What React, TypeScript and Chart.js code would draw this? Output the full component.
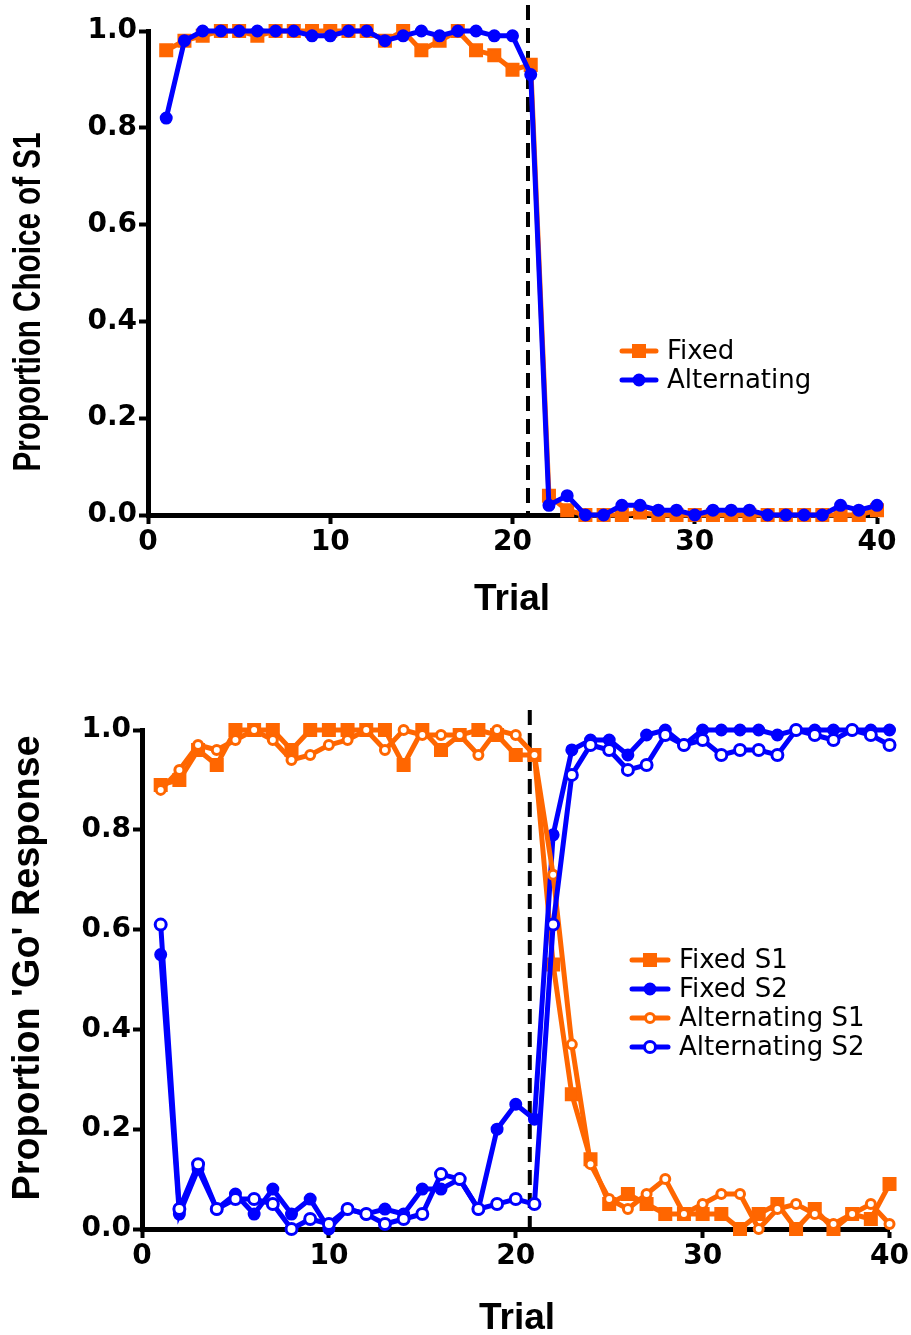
import React, { useEffect, useRef } from "react";
import { Chart, registerables } from "chart.js";

Chart.register(...registerables);

// ---------------- data ----------------
const trials = [1, 2, 3, 4, 5, 6, 7, 8, 9, 10, 11, 12, 13, 14, 15, 16, 17, 18, 19, 20, 21, 22, 23, 24, 25, 26, 27, 28, 29, 30, 31, 32, 33, 34, 35, 36, 37, 38, 39, 40];

// Top panel: Proportion Choice of S1
const topFixed = [0.96, 0.98, 0.99, 1.0, 1.0, 0.99, 1.0, 1.0, 1.0, 1.0, 1.0, 1.0, 0.98, 1.0, 0.96, 0.98, 1.0, 0.96, 0.95, 0.92, 0.93,
  0.04, 0.01, 0, 0, 0, 0.005, 0, 0, 0, 0, 0, 0, 0, 0, 0, 0, 0, 0, 0.01];
const topAlternating = [0.82, 0.98, 1.0, 1.0, 1.0, 1.0, 1.0, 1.0, 0.99, 0.99, 1.0, 1.0, 0.98, 0.99, 1.0, 0.99, 1.0, 1.0, 0.99, 0.99, 0.91,
  0.02, 0.04, 0, 0, 0.02, 0.02, 0.01, 0.01, 0, 0.01, 0.01, 0.01, 0, 0, 0, 0, 0.02, 0.01, 0.02];

// Bottom panel: Proportion 'Go' Response
const fixedS1 = [0.89, 0.90, 0.96, 0.93, 1.0, 1.0, 1.0, 0.96, 1.0, 1.0, 1.0, 1.0, 1.0, 0.93, 1.0, 0.96, 0.99, 1.0, 0.99, 0.95, 0.95,
  0.53, 0.27, 0.14, 0.05, 0.07, 0.05, 0.03, 0.03, 0.03, 0.03, 0.0, 0.03, 0.05, 0.0, 0.04, 0.0, 0.03, 0.02, 0.09];
const fixedS2 = [0.55, 0.03, 0.12, 0.04, 0.07, 0.03, 0.08, 0.03, 0.06, 0.0, 0.04, 0.03, 0.04, 0.03, 0.08, 0.08, 0.10, 0.04, 0.20, 0.25, 0.22,
  0.79, 0.96, 0.98, 0.98, 0.95, 0.99, 1.0, 0.97, 1.0, 1.0, 1.0, 1.0, 0.99, 1.0, 1.0, 1.0, 1.0, 1.0, 1.0];
const alternatingS1 = [0.88, 0.92, 0.97, 0.96, 0.98, 1.0, 0.98, 0.94, 0.95, 0.97, 0.98, 1.0, 0.96, 1.0, 0.99, 0.99, 0.99, 0.95, 1.0, 0.99, 0.95,
  0.71, 0.37, 0.13, 0.06, 0.04, 0.07, 0.10, 0.03, 0.05, 0.07, 0.07, 0.0, 0.04, 0.05, 0.03, 0.01, 0.03, 0.05, 0.01];
const alternatingS2 = [0.61, 0.04, 0.13, 0.04, 0.06, 0.06, 0.05, 0.0, 0.02, 0.01, 0.04, 0.03, 0.01, 0.02, 0.03, 0.11, 0.10, 0.04, 0.05, 0.06, 0.05,
  0.61, 0.91, 0.97, 0.96, 0.92, 0.93, 0.99, 0.97, 0.98, 0.95, 0.96, 0.96, 0.95, 1.0, 0.99, 0.98, 1.0, 0.99, 0.97];

const topLabels = ["Fixed", "Alternating"];
const bottomLabels = ["Fixed S1", "Fixed S2", "Alternating S1", "Alternating S2"];
const xTicksStep = 10;
const yTicksStep = 0.2;
const reversalTop = 20.85;
const reversalBottom = 20.75;

// ---------------- styles ----------------
const ORANGE = "#FF6600";
const BLUE = "#0000FF";

type Marker = { color: string; style: "rect" | "circle"; radius: number; fill: string; border: number };

const mFixedOrange: Marker = { color: ORANGE, style: "rect", radius: 8.5, fill: ORANGE, border: 2 };
const mFilledBlue: Marker = { color: BLUE, style: "circle", radius: 5.5, fill: BLUE, border: 2 };
const mOpenOrange: Marker = { color: ORANGE, style: "circle", radius: 4.5, fill: "#FFFFFF", border: 3 };
const mOpenBlue: Marker = { color: BLUE, style: "circle", radius: 5.5, fill: "#FFFFFF", border: 3 };

const LINE_W = 5;

function series(values: number[], m: Marker, order: number, label: string) {
  return {
    label,
    data: trials.map((t, i) => ({ x: t, y: values[i] })),
    borderColor: m.color,
    borderWidth: LINE_W,
    pointStyle: m.style,
    pointRadius: m.radius,
    pointBackgroundColor: m.fill,
    pointBorderColor: m.color,
    pointBorderWidth: m.border,
    tension: 0,
    clip: false,
    order,
  };
}

function drawMarker(ctx: CanvasRenderingContext2D, m: Marker, x: number, y: number) {
  ctx.save();
  ctx.fillStyle = m.fill;
  ctx.strokeStyle = m.color;
  ctx.lineWidth = m.border;
  ctx.beginPath();
  if (m.style === "rect") {
    const s = Math.SQRT1_2 * m.radius;
    ctx.rect(x - s, y - s, 2 * s, 2 * s);
  } else {
    ctx.arc(x, y, m.radius, 0, Math.PI * 2);
  }
  ctx.fill();
  ctx.stroke();
  ctx.restore();
}

type PanelDef = {
  top: number;
  width: number;
  height: number;
  area: { left: number; right: number; top: number; bottom: number };
  vline: number;
  vlineExtra: number;
  xTitle: { text: string; x: number; y: number; size: number };
  yTitle: { text: string; x: number; y: number; size: number; maxWidth: number };
  legend: { x0: number; x1: number; textX: number; ys: number[]; labels: string[]; markers: Marker[] };
  datasets: any[];
};

const topPanel: PanelDef = {
  top: 0,
  width: 911,
  height: 640,
  area: { left: 148, right: 877, top: 31, bottom: 515 },
  vline: reversalTop,
  vlineExtra: 26,
  xTitle: { text: "Trial", x: 512, y: 600, size: 37 },
  yTitle: { text: "Proportion Choice of S1", x: 29, y: 302, size: 39, maxWidth: 339 },
  legend: { x0: 622, x1: 656, textX: 667, ys: [351, 380], labels: topLabels, markers: [mFixedOrange, mFilledBlue] },
  datasets: [
    series(topFixed, mFixedOrange, 2, topLabels[0]),
    series(topAlternating, mFilledBlue, 1, topLabels[1]),
  ],
};

const bottomPanel: PanelDef = {
  top: 640,
  width: 911,
  height: 695,
  area: { left: 142, right: 893, top: 90, bottom: 589 },
  vline: reversalBottom,
  vlineExtra: 20,
  xTitle: { text: "Trial", x: 517, y: 679, size: 37 },
  yTitle: { text: "Proportion 'Go' Response", x: 29, y: 328, size: 38, maxWidth: 465 },
  legend: {
    x0: 632, x1: 668, textX: 679, ys: [320, 349, 378, 407], labels: bottomLabels,
    markers: [mFixedOrange, mFilledBlue, mOpenOrange, mOpenBlue],
  },
  datasets: [
    series(fixedS1, mFixedOrange, 4, bottomLabels[0]),
    series(fixedS2, mFilledBlue, 3, bottomLabels[1]),
    series(alternatingS1, mOpenOrange, 2, bottomLabels[2]),
    series(alternatingS2, mOpenBlue, 1, bottomLabels[3]),
  ],
};

const tickFont = { family: "'DejaVu Sans', sans-serif", weight: "bold" as const, size: 28 };

function buildConfig(p: PanelDef): any {
  const overlay = {
    id: "overlay",
    beforeDatasetsDraw(chart: any) {
      const { ctx, chartArea, scales } = chart;
      const x = scales.x.getPixelForValue(p.vline);
      ctx.save();
      ctx.strokeStyle = "#000";
      ctx.lineWidth = 4;
      ctx.setLineDash([15, 8]);
      ctx.beginPath();
      ctx.moveTo(x, chartArea.top - p.vlineExtra);
      ctx.lineTo(x, chartArea.bottom);
      ctx.stroke();
      ctx.restore();
    },
    afterDraw(chart: any) {
      const ctx: CanvasRenderingContext2D = chart.ctx;
      ctx.save();
      ctx.fillStyle = "#000";
      // x title
      ctx.font = `bold ${p.xTitle.size}px 'Liberation Sans', Arial, sans-serif`;
      ctx.textAlign = "center";
      ctx.textBaseline = "middle";
      ctx.fillText(p.xTitle.text, p.xTitle.x, p.xTitle.y);
      // y title
      ctx.save();
      ctx.translate(p.yTitle.x, p.yTitle.y);
      ctx.rotate(-Math.PI / 2);
      ctx.font = `bold ${p.yTitle.size}px 'Liberation Sans', Arial, sans-serif`;
      ctx.fillText(p.yTitle.text, 0, 0, p.yTitle.maxWidth);
      ctx.restore();
      // legend
      const lg = p.legend;
      lg.labels.forEach((label, i) => {
        const y = lg.ys[i];
        const m = lg.markers[i];
        ctx.save();
        ctx.strokeStyle = m.color;
        ctx.lineWidth = LINE_W;
        ctx.lineCap = "round";
        ctx.beginPath();
        ctx.moveTo(lg.x0, y);
        ctx.lineTo(lg.x1, y);
        ctx.stroke();
        ctx.restore();
        drawMarker(ctx, m, (lg.x0 + lg.x1) / 2, y);
        ctx.fillStyle = "#000";
        ctx.font = "26px 'DejaVu Sans', sans-serif";
        ctx.textAlign = "left";
        ctx.textBaseline = "middle";
        ctx.fillText(label, lg.textX, y + 1);
      });
      ctx.restore();
    },
  };

  return {
    type: "line",
    data: { datasets: p.datasets },
    options: {
      animation: false,
      responsive: false,
      maintainAspectRatio: false,
      devicePixelRatio: 1,
      layout: { padding: { left: 0, top: p.area.top, right: p.width - p.area.right, bottom: 0 } },
      plugins: { legend: { display: false }, tooltip: { enabled: false }, title: { display: false } },
      events: [],
      scales: {
        x: {
          type: "linear",
          min: 0,
          max: 40,
          afterFit: (s: any) => { s.height = p.height - p.area.bottom; },
          ticks: { stepSize: xTicksStep, color: "#000", font: tickFont, padding: 2, maxRotation: 0, autoSkip: false },
          grid: { display: true, drawOnChartArea: false, drawTicks: true, tickLength: 9, tickWidth: 4, tickColor: "#000" },
          border: { display: true, color: "#000", width: 5 },
        },
        y: {
          type: "linear",
          min: 0,
          max: 1,
          afterFit: (s: any) => { s.width = p.area.left; },
          ticks: {
            stepSize: yTicksStep, color: "#000", font: tickFont, padding: 2,
            callback: (v: any) => Number(v).toFixed(1),
          },
          grid: { display: true, drawOnChartArea: false, drawTicks: true, tickLength: 9, tickWidth: 4, tickColor: "#000" },
          border: { display: true, color: "#000", width: 5 },
        },
      },
    },
    plugins: [overlay],
  };
}

function PanelChart({ panel }: { panel: PanelDef }) {
  const ref = useRef<HTMLCanvasElement>(null);
  useEffect(() => {
    if (!ref.current) return;
    const chart = new Chart(ref.current, buildConfig(panel));
    return () => chart.destroy();
  }, [panel]);
  return (
    <canvas
      ref={ref}
      width={panel.width}
      height={panel.height}
      style={{ position: "absolute", left: 0, top: panel.top, width: panel.width + "px", height: panel.height + "px" }}
    />
  );
}

export default function App() {
  return (
    <div style={{ position: "absolute", left: 0, top: 0, width: 911, height: 1335, background: "#fff" }}>
      <PanelChart panel={topPanel} />
      <PanelChart panel={bottomPanel} />
    </div>
  );
}
